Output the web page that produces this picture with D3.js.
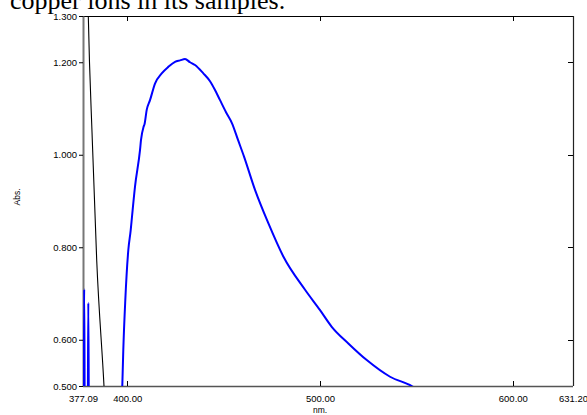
<!DOCTYPE html>
<html><head><meta charset="utf-8">
<script src="https://cdn.jsdelivr.net/npm/d3@7"></script>
<style>
body{margin:0;background:#fff;}
svg{display:block;}
text{font-family:"Liberation Sans",Arial,sans-serif;}
</style></head>
<body>
<svg id="chart" width="587" height="415"></svg>
<script>
// ---- data ----
const blueNm  = [377.30,377.72,378.05,379.50,379.84,380.20,397.00,397.47,397.99,399.03,400.59,401.83,402.50,404.06,406.65,407.17,408.47,408.99,410.13,411.84,414.43,417.91,421.33,424.81,427.40,429.99,432.59,435.18,439.49,442.96,445.55,448.15,451.26,454.37,457.48,460.60,466.30,473.20,480.98,492.24,500.02,506.08,514.69,524.24,536.32,547.58,555.00];
const blueAbs = [0.400,0.709,0.400,0.400,0.680,0.400,0.400,0.500,0.578,0.686,0.794,0.837,0.866,0.931,1.010,1.032,1.060,1.066,1.097,1.118,1.154,1.176,1.190,1.201,1.204,1.207,1.200,1.194,1.176,1.159,1.140,1.118,1.092,1.068,1.032,0.996,0.924,0.852,0.780,0.708,0.664,0.628,0.592,0.556,0.520,0.500,0.480];
const blackNm  = [379.60,379.84,381.91,384.20,387.98,388.60];
const blackAbs = [1.350,1.300,1.032,0.772,0.500,0.450];
const yTicks = [1.3,1.2,1.0,0.8,0.6,0.5];
const xLabels = [377.09,400,500,600,631.2];
const xTickMarks = [400,500,600];
const yRightTicks = [1.2,1.0,0.8,0.6];
const titleText = "copper ions in its samples.";
const xTitle = "nm.";
const yTitle = "Abs.";

// ---- layout ----
const L=83, R=573, T=16, B=386;
const svg = d3.select("#chart");
const x = d3.scaleLinear().domain([377.09,631.2]).range([L,R]);
const y = d3.scaleLinear().domain([0.5,1.3]).range([B,T]);

// title fragment at top (cut off)
svg.append("text").attr("x",10).attr("y",9)
  .style("font-family",'"Liberation Serif","Times New Roman",serif')
  .style("font-size","26px").attr("fill","#000").text(titleText);

svg.append("defs").append("clipPath").attr("id","clip")
  .append("rect").attr("x",L).attr("y",T).attr("width",R-L).attr("height",B-T);

// frame
svg.append("line").attr("x1",L).attr("x2",R).attr("y1",T+0.5).attr("y2",T+0.5).attr("stroke","#000").attr("stroke-width",1.2);
svg.append("line").attr("x1",R+0.5).attr("x2",R+0.5).attr("y1",T).attr("y2",B).attr("stroke","#222").attr("stroke-width",1.2);
svg.append("line").attr("x1",L).attr("x2",R).attr("y1",B+0.5).attr("y2",B+0.5).attr("stroke","#555").attr("stroke-width",1.4);

// top/bottom inward ticks
xTickMarks.forEach(v=>{
  svg.append("line").attr("x1",Math.round(x(v))+0.5).attr("x2",Math.round(x(v))+0.5).attr("y1",T).attr("y2",T+5).attr("stroke","#000");
  svg.append("line").attr("x1",Math.round(x(v))+0.5).attr("x2",Math.round(x(v))+0.5).attr("y1",B).attr("y2",B-5).attr("stroke","#000");
});
// right inward ticks
yRightTicks.forEach(v=>{
  svg.append("line").attr("x1",R).attr("x2",R-5).attr("y1",Math.round(y(v))+0.5).attr("y2",Math.round(y(v))+0.5).attr("stroke","#000");
});

// bottom labels via axis
const xAxis = d3.axisBottom(x).tickValues(xLabels).tickSize(0).tickPadding(9).tickFormat(d3.format(".2f"));
const gx = svg.append("g").attr("transform",`translate(0,${B})`).call(xAxis);
gx.select(".domain").remove();
gx.selectAll("text").style("font-size","9.5px").attr("fill","#000");

// left axis
const yAxis = d3.axisLeft(y).tickValues(yTicks).tickSize(4).tickSizeOuter(0).tickPadding(2).tickFormat(d3.format(".3f"));
const gy = svg.append("g").attr("transform",`translate(${L},0)`).call(yAxis);
gy.select(".domain").attr("stroke","#777").attr("stroke-width",2);
gy.selectAll("text").style("font-size","9.5px").attr("fill","#000");
gy.selectAll(".tick line").attr("stroke","#000");

// axis titles
svg.append("text").attr("x",320).attr("y",413).attr("text-anchor","middle").style("font-size","8.5px").text(xTitle);
svg.append("text").attr("transform","translate(20,197) rotate(-90)").attr("text-anchor","middle").style("font-size","8.5px").text(yTitle);

// lines
const line = d3.line().x(d=>x(d[0])).y(d=>y(d[1])).curve(d3.curveMonotoneX);
const plot = svg.append("g").attr("clip-path","url(#clip)");
plot.append("path").datum(blackNm.map((v,i)=>[v,blackAbs[i]]))
  .attr("d",line).attr("fill","none").attr("stroke","#000").attr("stroke-width",1.1);
plot.append("path").datum(blueNm.map((v,i)=>[v,blueAbs[i]]))
  .attr("d",line).attr("fill","none").attr("stroke","#0000ff").attr("stroke-width",2).attr("stroke-linejoin","round");
</script>
</body></html>
